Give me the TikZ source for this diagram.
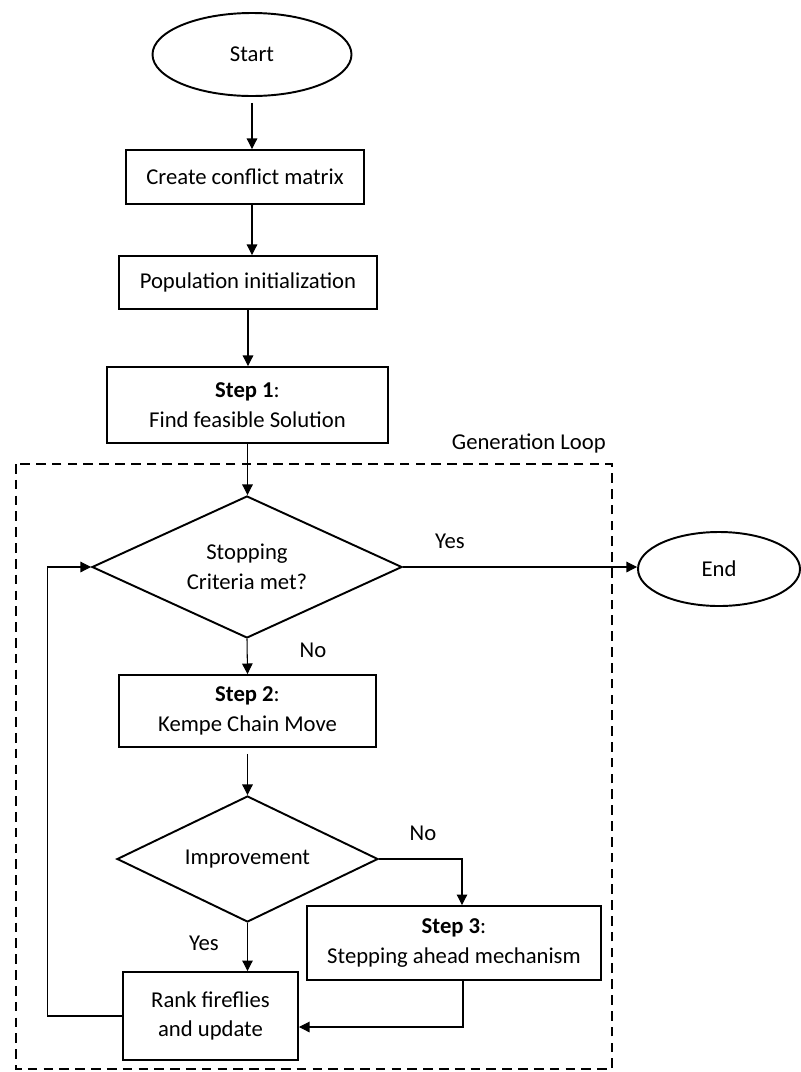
\documentclass[tikz,border=0pt]{standalone}
\usepackage{fontspec}
\setmainfont{Carlito}
\usetikzlibrary{positioning,arrows.meta,shapes.geometric}

\begin{document}
\begin{tikzpicture}[x=0.2mm,y=0.2mm,
    every node/.style={font=\fontsize{12.9}{17}\selectfont},
    term/.style={draw,ellipse,line width=1.1pt,inner sep=0pt},
    stepbox/.style={draw,line width=1.1pt,align=center,inner sep=0pt},
    decision/.style={draw,diamond,aspect=2,line width=1.1pt,align=center,inner sep=0pt},
    arr/.style={-{Triangle[length=6pt,width=6pt]},line width=0.6pt}]
  \useasboundingbox (0,0) rectangle (801,-1072);
  % main column
  \node[term,minimum width=39.8mm,minimum height=16.6mm] at (252,-54.5) (start) {Start};
  \node[stepbox,minimum width=47.6mm,minimum height=10.8mm] at (245,-177) (conflict) {Create conflict matrix};
  \node[stepbox,minimum width=51.6mm,minimum height=10.6mm] at (248,-282.5) (popinit) {Population initialization};
  \node[stepbox,minimum width=56.2mm,minimum height=15.2mm] at (247.5,-405) (step1) {\textbf{Step 1}:\\Find feasible Solution};
  % generation loop
  \draw[line width=1.1pt,dash pattern=on 5.5pt off 3.5pt] (16,-464) rectangle (612,-1069);
  \node[anchor=base east] at (612,-449) (looplbl) {Generation Loop};
  \node[decision,minimum width=62mm,minimum height=28.4mm] at (247,-567) (stopcrit) {Stopping\\Criteria met?};
  \node[term,minimum width=32.4mm,minimum height=14.8mm] at (719,-569) (finish) {End};
  \node[stepbox,minimum width=51.4mm,minimum height=14.4mm] at (247.5,-711) (step2) {\textbf{Step 2}:\\Kempe Chain Move};
  \node[decision,minimum width=52.2mm,minimum height=25.2mm] at (247.5,-859) (improve) {Improvement};
  \node[stepbox,minimum width=58.8mm,minimum height=14.8mm] at (454,-943) (step3) {\textbf{Step 3}:\\Stepping ahead mechanism};
  \node[stepbox,minimum width=35mm,minimum height=17.6mm] at (210.5,-1016) (rank) {Rank fireflies\\and update};
  % branch labels
  \node at (450,-541) (yesend) {Yes};
  \node at (313,-650) (nostop) {No};
  \node at (423,-833) (noimp) {No};
  \node at (204,-943) (yesimp) {Yes};
  % connectors
  \draw[arr,shorten <=1.2mm] (start) -- (start |- conflict.north);
  \draw[arr] (start |- conflict.south) -- (start |- popinit.north);
  \draw[arr] (popinit) -- (popinit |- step1.north);
  \draw[arr] (step1) -- (step1 |- stopcrit.north);
  \draw[arr] (stopcrit.east) -- (stopcrit.east -| finish.west);
  \draw[arr] (stopcrit.south) -- (step2.north);
  \draw[arr,shorten <=1.2mm] (step2.south) -- (improve.north);
  \draw[arr] (improve.east) -| ([xshift=1.6mm]step3.north);
  \draw[arr] (improve.south) -- (improve.south |- rank.north);
  \draw[arr] ([xshift=1.8mm]step3.south) |- ([yshift=-2.2mm]rank.east);
  \draw[arr] (rank.west) -- ++(-75,0) |- (stopcrit.west);
\end{tikzpicture}
\end{document}
